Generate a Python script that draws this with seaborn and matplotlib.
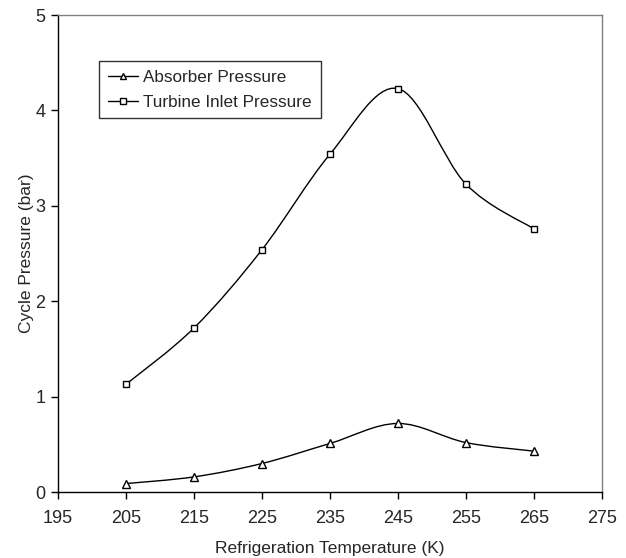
import numpy as np
import matplotlib
matplotlib.use("Agg")
import matplotlib.pyplot as plt
import seaborn as sns
import pandas as pd
from matplotlib.path import Path
from matplotlib.patches import PathPatch
from matplotlib.lines import Line2D

temps = [205, 215, 225, 235, 245, 255, 265]
absorber = [0.09, 0.16, 0.30, 0.51, 0.72, 0.52, 0.43]
turbine = [1.13, 1.72, 2.54, 3.54, 4.23, 3.23, 2.76]
labels = ["Absorber Pressure", "Turbine Inlet Pressure"]

sns.set_style("white")
plt.rcParams["font.family"] = ["Liberation Sans", "DejaVu Sans"]


def smooth_path(x, y):
    # Excel-style smoothed line: cubic bezier with catmull-rom control points
    pts = np.column_stack([x, y]).astype(float)
    verts = [pts[0]]
    codes = [Path.MOVETO]
    n = len(pts)
    for i in range(n - 1):
        p0 = pts[i - 1] if i > 0 else pts[i]
        p1 = pts[i]
        p2 = pts[i + 1]
        p3 = pts[i + 2] if i + 2 < n else pts[i + 1]
        c1 = p1 + (p2 - p0) / 6.0
        c2 = p2 - (p3 - p1) / 6.0
        verts += [c1, c2, p2]
        codes += [Path.CURVE4] * 3
    return Path(verts, codes)


fig = plt.figure(figsize=(6.26, 5.58), dpi=100)
ax = fig.add_axes([0.0927, 0.118, 0.8684, 0.855])

df = pd.DataFrame({"T": temps, "abs": absorber, "tur": turbine})

for col, mk, ms in [("abs", "^", 5.5), ("tur", "s", 5)]:
    ax.add_patch(PathPatch(smooth_path(df["T"], df[col]), facecolor="none",
                           edgecolor="black", lw=1.0, zorder=2))
    sns.lineplot(data=df, x="T", y=col, ax=ax, linestyle="", marker=mk,
                 markersize=ms, markerfacecolor="white", markeredgecolor="black",
                 markeredgewidth=1.0, zorder=3)

ax.set_xlim(195, 275)
ax.set_ylim(0, 5)
ax.set_xticks(np.arange(195, 276, 10))
ax.set_yticks(np.arange(0, 6, 1))
ax.tick_params(axis="both", direction="out", length=5, width=1, color="black",
               labelsize=13, bottom=True, left=True)
ax.tick_params(axis="x", pad=8)
ax.tick_params(axis="y", pad=4)
ax.set_xlabel("Refrigeration Temperature (K)", fontsize=12.5, labelpad=10)
ax.set_ylabel("Cycle Pressure (bar)", fontsize=12.5, labelpad=1)

for s in ["left", "bottom"]:
    ax.spines[s].set_color("black")
    ax.spines[s].set_linewidth(1.0)
for s in ["top", "right"]:
    ax.spines[s].set_color("#808080")
    ax.spines[s].set_linewidth(1.0)

handles = [
    Line2D([], [], color="black", lw=1, marker="^", markersize=4.5,
           markerfacecolor="white", markeredgecolor="black"),
    Line2D([], [], color="black", lw=1, marker="s", markersize=4.5,
           markerfacecolor="white", markeredgecolor="black"),
]
leg = ax.legend(handles, labels, loc="upper left", bbox_to_anchor=(0.0754, 0.9036),
                fontsize=12.3, frameon=True, fancybox=False, handlelength=1.8,
                borderpad=0.5, labelspacing=0.6, handletextpad=0.3, borderaxespad=0)
leg.get_frame().set_edgecolor("black")
leg.get_frame().set_linewidth(1.0)

fig.savefig("out.png", dpi=100)
